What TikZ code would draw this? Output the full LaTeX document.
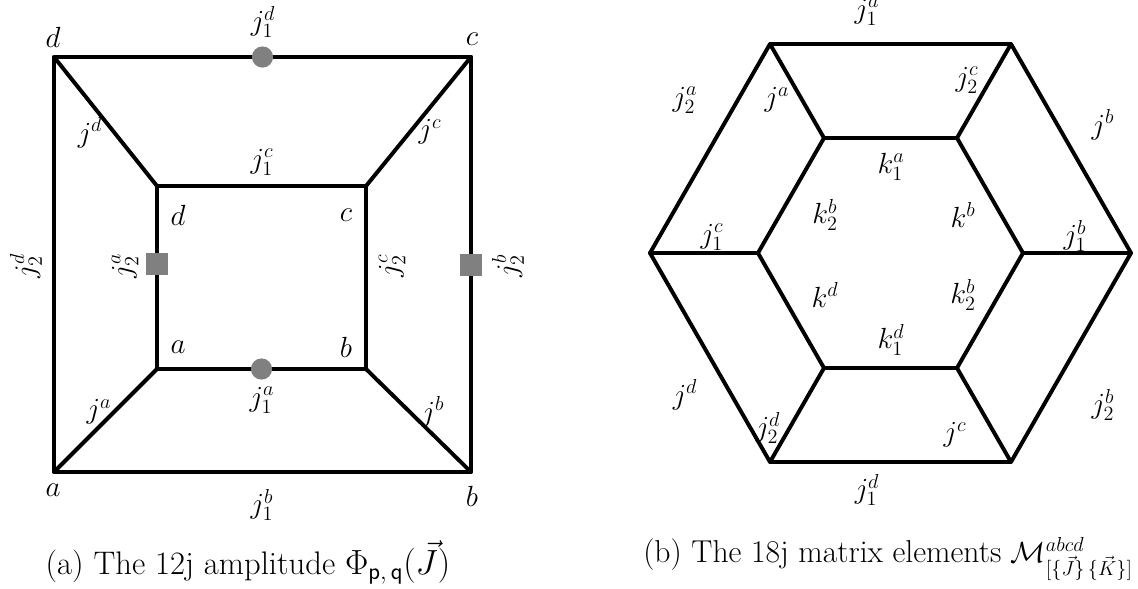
\documentclass[tikz,border=0pt]{standalone}
\usepackage{amsmath}
\usetikzlibrary{calc}
\begin{document}
\begin{tikzpicture}[x=0.025cm,y=-0.025cm,
  edge/.style={line width=2.8pt, line cap=round, line join=round},
  lab/.style={font=\fontsize{21}{25}\selectfont, inner sep=0pt},
  captexta/.style={font=\fontsize{23.2}{28}\selectfont, inner sep=0pt},
  captextb/.style={font=\fontsize{22.5}{27}\selectfont, inner sep=0pt},
  gdot/.style={circle, fill=gray, inner sep=0pt, minimum size=0.53cm},
  gsq/.style={rectangle, fill=gray, inner sep=0pt, minimum size=0.53cm}]
\useasboundingbox (0,0) rectangle (1138,588);
% ---------- left figure ----------
\coordinate (OD) at (54,57);
\coordinate (OC) at (471,57);
\coordinate (OA) at (54,472);
\coordinate (OB) at (471,472);
\coordinate (ID) at (157,186);
\coordinate (IC) at (366,186);
\coordinate (IA) at (157,369);
\coordinate (IB) at (366,369);
\draw[edge] (OD) -- (OC) -- (OB) -- (OA) -- cycle;
\draw[edge] (ID) -- (IC) -- (IB) -- (IA) -- cycle;
\draw[edge] (OD) -- (ID);
\draw[edge] (OC) -- (IC);
\draw[edge] (OA) -- (IA);
\draw[edge] (OB) -- (IB);
\node[gdot] (cTop) at ($(OD)!0.5!(OC)$) {};
\node[gdot] (cBot) at ($(IA)!0.5!(IB)$) {};
\node[gsq] (sL) at (157,264) {};
\node[gsq] (sR) at (471,265) {};
\node[lab] (lOD) at (53,37) {$d$};
\node[lab] (lOC) at (472,39) {$c$};
\node[lab] (lOA) at (53,490) {$a$};
\node[lab] (lOB) at (472,496) {$b$};
\node[lab] (lID) at (178,215) {$d$};
\node[lab] (lIC) at (346,215) {$c$};
\node[lab] (lIA) at (178,347) {$a$};
\node[lab] (lIB) at (346,347) {$b$};
\node[lab] (l1d) at (263,22) {$j_1^d$};
\node[lab] (l1c) at (262,162) {$j_1^c$};
\node[lab] (l1a) at (262,400) {$j_1^a$};
\node[lab] (l1b) at (262,505) {$j_1^b$};
\node[lab] (ljd) at (90,133) {$j^d$};
\node[lab] (ljc) at (430,132) {$j^c$};
\node[lab] (lja) at (99,412) {$j^a$};
\node[lab] (ljb) at (433,412) {$j^b$};
\node[lab, rotate=90] (l2d) at (26,266) {$j_2^d$};
\node[lab, rotate=90] (l2a) at (125,266) {$j_2^a$};
\node[lab, rotate=90] (l2c) at (392,266) {$j_2^c$};
\node[lab, rotate=90] (l2b) at (508,266) {$j_2^b$};
\node[captexta, anchor=base] (capA) at (248,574) {(a) The 12j amplitude $\Phi_{\mathsf{p},\,\mathsf{q}}(\vec{J})$};
% ---------- right figure ----------
\coordinate (HTL) at (770,44);
\coordinate (HTR) at (1011,44);
\coordinate (HR) at (1131,253);
\coordinate (HBR) at (1011,462);
\coordinate (HBL) at (770,462);
\coordinate (HL) at (650,253);
\coordinate (KTL) at (824,138);
\coordinate (KTR) at (957,138);
\coordinate (KR) at (1023,253);
\coordinate (KBR) at (957,368);
\coordinate (KBL) at (824,368);
\coordinate (KL) at (758,253);
\draw[edge] (HTL) -- (HTR) -- (HR) -- (HBR) -- (HBL) -- (HL) -- cycle;
\draw[edge] (KTL) -- (KTR) -- (KR) -- (KBR) -- (KBL) -- (KL) -- cycle;
\draw[edge] (HTL) -- (KTL);
\draw[edge] (HTR) -- (KTR);
\draw[edge] (HR) -- (KR);
\draw[edge] (HBR) -- (KBR);
\draw[edge] (HBL) -- (KBL);
\draw[edge] (HL) -- (KL);
\node[lab] (h1a) at (867,12) {$j_1^a$};
\node[lab] (hja) at (777,100) {$j^a$};
\node[lab] (h2c) at (967,80) {$j_2^c$};
\node[lab] (h2a) at (685,100) {$j_2^a$};
\node[lab] (hjb) at (1103,125) {$j^b$};
\node[lab] (k1a) at (891,167) {$k_1^a$};
\node[lab] (k2b) at (825,215) {$k_2^b$};
\node[lab] (kb) at (963,215) {$k^b$};
\node[lab] (h1c) at (712,237) {$j_1^c$};
\node[lab] (h1b) at (1075,236) {$j_1^b$};
\node[lab] (kd) at (825,295) {$k^d$};
\node[lab] (k2bb) at (963,295) {$k_2^b$};
\node[lab] (k1d) at (891,340) {$k_1^d$};
\node[lab] (hjd) at (685,395) {$j^d$};
\node[lab] (h2d) at (768,428) {$j_2^d$};
\node[lab] (h2b) at (1103,405) {$j_2^b$};
\node[lab] (hjc) at (955,435) {$j^c$};
\node[lab] (h1d) at (867,490) {$j_1^d$};
\node[captextb, anchor=base west] (capB) at (643,562) {(b) The 18j matrix elements $\mathcal{M}^{abcd}_{[\{\vec{J}\}\,\{\vec{K}\}]}$};
\end{tikzpicture}
\end{document}
